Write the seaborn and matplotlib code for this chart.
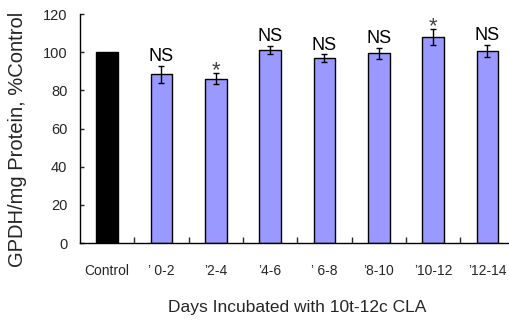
import matplotlib
matplotlib.use("Agg")
import matplotlib.pyplot as plt
import seaborn as sns
import pandas as pd
import numpy as np

categories = ["Control", "’ 0-2", "’2-4", "’4-6", "’ 6-8", "’8-10", "’10-12", "’12-14"]
values = [100, 88.4, 86.2, 101.2, 96.8, 99.4, 108.0, 100.8]
errors = [0, 4.3, 3.0, 2.3, 2.0, 3.0, 4.2, 3.2]
marks = ["", "NS", "*", "NS", "NS", "NS", "*", "NS"]
bar_colors = ["#000000"] + ["#9999FF"] * 7

sns.set_style("ticks")
plt.rcParams["font.family"] = ["Liberation Sans", "DejaVu Sans"]

df = pd.DataFrame({"cat": categories, "val": values})

fig = plt.figure(figsize=(5.09, 3.2), dpi=100)
ax = fig.add_axes([0.157, 0.2406, 0.854, 0.7156])

sns.barplot(data=df, x="cat", y="val", hue="cat", palette=bar_colors,
            legend=False, width=0.4, edgecolor="black", linewidth=1.0,
            saturation=1, ax=ax, errorbar=None)

xs = np.arange(len(categories))
for i in range(1, len(categories)):
    ax.errorbar(xs[i], values[i], yerr=errors[i], fmt="none", ecolor="black",
                elinewidth=1.0, capsize=2.2, capthick=1.0)

for i, m in enumerate(marks):
    if not m:
        continue
    top = values[i] + errors[i]
    if m == "*":
        ax.annotate(m, (xs[i], top), xytext=(0, -2.5), textcoords="offset points",
                    ha="center", va="baseline", fontsize=16, color="#444444")
    else:
        ax.annotate(m, (xs[i], top), xytext=(0, 3.5), textcoords="offset points",
                    ha="center", va="baseline", fontsize=13, color="black")

ax.set_xlim(-0.5, 7.5)
ax.set_ylim(0, 120)
ax.set_yticks([0, 20, 40, 60, 80, 100, 120])
ax.tick_params(axis="y", direction="in", length=3, width=1, labelsize=10.5, pad=9)
ax.set_xticks(xs)
ax.set_xticklabels(categories)
ax.tick_params(axis="x", which="major", length=0, labelsize=10, pad=15)
ax.set_xticks(np.arange(0.5, 8, 1), minor=True)
ax.tick_params(axis="x", which="minor", direction="in", length=4, width=1)

for s in ["top", "right"]:
    ax.spines[s].set_visible(False)
for s in ["left", "bottom"]:
    ax.spines[s].set_linewidth(1.0)
    ax.spines[s].set_color("black")

ax.set_xlabel("Days Incubated with 10t-12c CLA", fontsize=12.5, labelpad=16)
ax.set_ylabel("GPDH/mg Protein, %Control", fontsize=14.5)
ax.yaxis.set_label_coords(-0.122, 0.454)

fig.savefig("out.png", dpi=100)
